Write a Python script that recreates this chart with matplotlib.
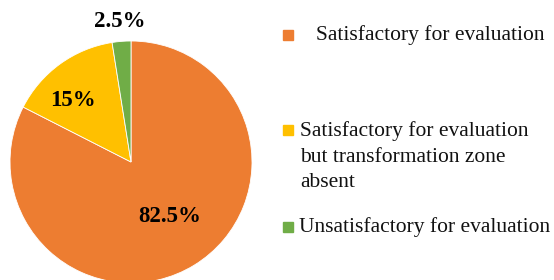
import matplotlib
matplotlib.use("Agg")
import matplotlib.pyplot as plt
from matplotlib.patches import Rectangle

categories = ["Satisfactory for evaluation",
              "Satisfactory for evaluation\nbut transformation zone\nabsent",
              "Unsatisfactory for evaluation"]
values = [82.5, 15, 2.5]
pct_labels = ["82.5%", "15%", "2.5%"]
colors = ["#ED7D31", "#FFC000", "#70AD47"]

W, H = 554, 280
fig = plt.figure(figsize=(W / 100, H / 100), dpi=100)
plt.rcParams['font.family'] = ['Liberation Serif', 'DejaVu Serif']

ax = fig.add_axes([10 / W, -3 / H, 242 / W, 242 / H])
wedges, _ = ax.pie(values, colors=colors, startangle=90, counterclock=False,
                   radius=1, wedgeprops=dict(edgecolor="white", linewidth=0.6))
ax.set_xlim(-1, 1)
ax.set_ylim(-1, 1)
ax.set_aspect("equal")
ax.axis("off")

label_pos = [(0.32, -0.45), (-0.48, 0.51), (-0.09, 1.165)]
for lab, (x, y) in zip(pct_labels, label_pos):
    ax.text(x, y, lab, ha="center", va="center", fontsize=16.5,
            fontweight="bold", color="black", clip_on=False)

# legend (manual layout)
leg_items = [
    (283, 30, 316, 40),
    (283, 125, 300, 136),
    (283, 222, 299, 232),
]
line_gap = 25.5
for (mx, my, tx, ty), col, cat in zip(leg_items, colors, categories):
    fig.patches.append(Rectangle((mx / W, 1 - (my + 10) / H), 10 / W, 10 / H,
                                 transform=fig.transFigure, color=col))
    for i, line in enumerate(cat.split("\n")):
        fig.text(tx / W, 1 - (ty + i * line_gap) / H, line, ha="left",
                 va="baseline", fontsize=15.5, color="#111111")

fig.savefig("out.png", dpi=100)
